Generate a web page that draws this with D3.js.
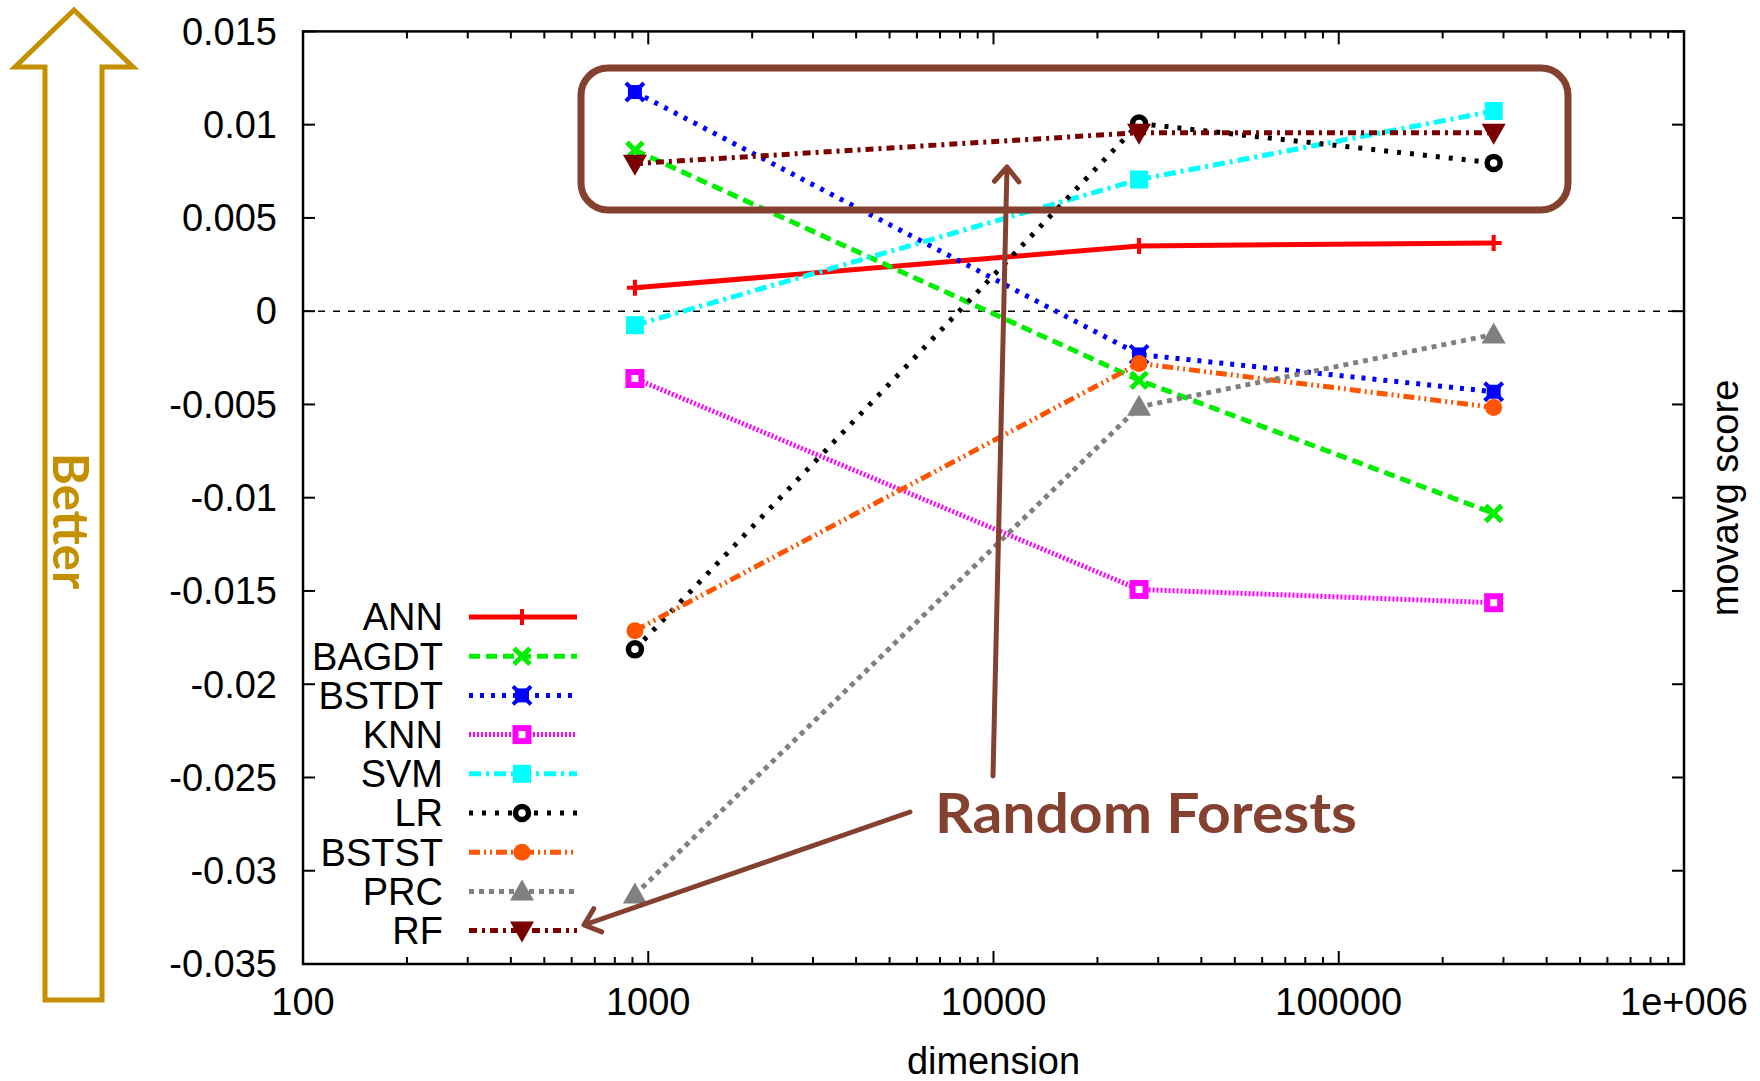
<!DOCTYPE html>
<html>
<head>
<meta charset="utf-8">
<script src="https://cdn.jsdelivr.net/npm/d3@7"></script>
<style>
  body { margin: 0; background: #fff; }
  text { font-family: "Liberation Sans", Arial, sans-serif; }
</style>
</head>
<body>
<svg id="chart" width="1760" height="1081"></svg>
<script>
// data
var dims = [915, 26400, 281000];
var seriesNames = ["ANN", "BAGDT", "BSTDT", "KNN", "SVM", "LR", "BSTST", "PRC", "RF"];
var ann   = [0.00125, 0.0035, 0.00366];
var bagdt = [0.00863, -0.0037, -0.01084];
var bstdt = [0.01175, -0.00232, -0.00432];
var knn   = [-0.00361, -0.01492, -0.01563];
var svm   = [-0.00075, 0.00706, 0.01073];
var lr    = [-0.01813, 0.01006, 0.00795];
var bstst = [-0.01713, -0.0028, -0.00516];
var prc   = [-0.03128, -0.00513, -0.00125];
var rf    = [0.00791, 0.00957, 0.00957];
var xTicks = [100, 1000, 10000, 100000, 1000000];
var xTickLabels = ["100", "1000", "10000", "100000", "1e+006"];
var yTicks = [0.015, 0.01, 0.005, 0, -0.005, -0.01, -0.015, -0.02, -0.025, -0.03, -0.035];

var values = [ann, bagdt, bstdt, knn, svm, lr, bstst, prc, rf];

//styles for each series
var styles = [
  {color: "#ff0000", dash: null,            marker: "plus"},
  {color: "#00ee00", dash: "11,6",          marker: "cross"},
  {color: "#0000ff", dash: "4,7",           marker: "star"},
  {color: "#ff00ff", dash: "2,2",           marker: "osquare"},
  {color: "#00ffff", dash: "12,5,3,5",      marker: "square"},
  {color: "#000000", dash: "4,9",           marker: "ocircle"},
  {color: "#ff5500", dash: "11,4,2,4,2,4",  marker: "circle"},
  {color: "#808080", dash: "5,5",           marker: "triangle"},
  {color: "#7a0000", dash: "8,5,3,5",       marker: "dtriangle"}
];

var svg = d3.select("#chart");
var pL = 303, pR = 1684, pT = 31.4, pB = 964;
var fs = "38px";

var x = d3.scaleLog().domain([100, 1e6]).range([pL, pR]);
var y = d3.scaleLinear().domain([-0.035, 0.015]).range([pB, pT]);

svg.append("rect").attr("width", 1760).attr("height", 1081).attr("fill", "#fff");

//zero line
svg.append("line")
  .attr("x1", pL).attr("x2", pR)
  .attr("y1", y(0)).attr("y2", y(0))
  .attr("stroke", "#000").attr("stroke-width", 1.5)
  .attr("stroke-dasharray", "7,8");

//ticks
var ticksG = svg.append("g").attr("stroke", "#000").attr("stroke-width", 2);
var minor = [];
for (var d = 100; d < 1e6; d *= 10)
  for (var k = 2; k <= 9; k++) minor.push(d * k);
xTicks.forEach(function(t) {
  ticksG.append("line").attr("x1", x(t)).attr("x2", x(t)).attr("y1", pB).attr("y2", pB - 13);
  ticksG.append("line").attr("x1", x(t)).attr("x2", x(t)).attr("y1", pT).attr("y2", pT + 13);
});
minor.forEach(function(t) {
  ticksG.append("line").attr("x1", x(t)).attr("x2", x(t)).attr("y1", pB).attr("y2", pB - 7);
  ticksG.append("line").attr("x1", x(t)).attr("x2", x(t)).attr("y1", pT).attr("y2", pT + 7);
});
yTicks.forEach(function(t) {
  ticksG.append("line").attr("x1", pL).attr("x2", pL + 12).attr("y1", y(t)).attr("y2", y(t));
  ticksG.append("line").attr("x1", pR).attr("x2", pR - 12).attr("y1", y(t)).attr("y2", y(t));
});

//tick labels
svg.append("g").selectAll("text").data(yTicks).enter().append("text")
  .attr("x", pL - 26).attr("y", function(d) { return y(d); })
  .attr("dy", "0.35em").attr("text-anchor", "end")
  .style("font-size", fs)
  .text(function(d) { return d === 0 ? "0" : String(+d.toFixed(3)); });
svg.append("g").selectAll("text").data(xTicks).enter().append("text")
  .attr("x", function(d) { return x(d); }).attr("y", 1002)
  .attr("dy", "0.35em").attr("text-anchor", "middle")
  .style("font-size", fs)
  .text(function(d, i) { return xTickLabels[i]; });

svg.append("text").attr("x", (pL + pR) / 2).attr("y", 1061).attr("dy", "0.35em")
  .attr("text-anchor", "middle").style("font-size", fs).text("dimension");
svg.append("text").attr("transform", "translate(1738,498) rotate(-90)")
  .attr("text-anchor", "middle").style("font-size", fs).text("movavg score");

//border
svg.append("rect").attr("x", pL).attr("y", pT)
  .attr("width", pR - pL).attr("height", pB - pT)
  .attr("fill", "none").attr("stroke", "#000").attr("stroke-width", 2.5);

function drawMarker(g, type, color, cx, cy) {
  var m = g.append("g").attr("transform", "translate(" + cx + "," + cy + ")");
  if (type === "plus") {
    m.append("path").attr("d", "M-8,0H8M0,-8V8").attr("stroke", color).attr("stroke-width", 4);
  } else if (type === "cross") {
    m.append("path").attr("d", "M-8,-8L8,8M-8,8L8,-8").attr("stroke", color).attr("stroke-width", 5);
  } else if (type === "star") {
    m.append("rect").attr("x", -7).attr("y", -7).attr("width", 14).attr("height", 14).attr("fill", color);
    m.append("path").attr("d", "M-9,-9L9,9M-9,9L9,-9").attr("stroke", color).attr("stroke-width", 4);
  } else if (type === "osquare") {
    m.append("rect").attr("x", -6.5).attr("y", -6.5).attr("width", 13).attr("height", 13)
      .attr("fill", "#fff").attr("stroke", color).attr("stroke-width", 6);
  } else if (type === "square") {
    m.append("rect").attr("x", -9).attr("y", -9).attr("width", 18).attr("height", 18).attr("fill", color);
  } else if (type === "ocircle") {
    m.append("circle").attr("r", 6.5).attr("fill", "#fff").attr("stroke", color).attr("stroke-width", 5.5);
  } else if (type === "circle") {
    m.append("circle").attr("r", 8.5).attr("fill", color);
  } else if (type === "triangle") {
    m.append("path").attr("d", "M0,-12L12,9H-12Z").attr("fill", color);
  } else if (type === "dtriangle") {
    m.append("path").attr("d", "M0,12L12,-9H-12Z").attr("fill", color);
  }
}

//series
var line = d3.line()
  .x(function(d, i) { return x(dims[i]); })
  .y(function(d) { return y(d); });

var plotG = svg.append("g");
values.forEach(function(vals, si) {
  var st = styles[si];
  plotG.append("path").datum(vals)
    .attr("d", line)
    .attr("fill", "none")
    .attr("stroke", st.color)
    .attr("stroke-width", 5)
    .attr("stroke-dasharray", st.dash);
  vals.forEach(function(v, i) {
    drawMarker(plotG, st.marker, st.color, x(dims[i]), y(v));
  });
});

//legend
var legG = svg.append("g");
seriesNames.forEach(function(name, i) {
  var ly = 617 + i * 39.2;
  var st = styles[i];
  legG.append("text").attr("x", 443).attr("y", ly).attr("dy", "0.35em")
    .attr("text-anchor", "end").style("font-size", fs).text(name);
  legG.append("line").attr("x1", 469).attr("x2", 577).attr("y1", ly).attr("y2", ly)
    .attr("stroke", st.color).attr("stroke-width", 5)
    .attr("stroke-dasharray", st.dash);
  drawMarker(legG, st.marker, st.color, 522, ly);
});

//annotations
var brown = "#85412f";
var gold = "#c49000";
var ann2 = svg.append("g");
ann2.append("rect").attr("x", 581).attr("y", 68).attr("width", 987).attr("height", 142)
  .attr("rx", 27).attr("fill", "none").attr("stroke", brown).attr("stroke-width", 7);

function arrow(x1, y1, x2, y2) {
  var a = Math.atan2(y2 - y1, x2 - x1), L = 19, s = 0.7;
  var p1 = [x2 - L * Math.cos(a - s), y2 - L * Math.sin(a - s)];
  var p2 = [x2 - L * Math.cos(a + s), y2 - L * Math.sin(a + s)];
  ann2.append("path")
    .attr("d", "M" + x1 + "," + y1 + "L" + x2 + "," + y2 + "M" + p1 + "L" + x2 + "," + y2 + "L" + p2)
    .attr("fill", "none").attr("stroke", brown).attr("stroke-width", 5)
    .attr("stroke-linecap", "round").attr("stroke-linejoin", "round");
}
arrow(993, 776, 1007, 167);
arrow(910, 812, 584, 925);

ann2.append("text").attr("x", 935).attr("y", 833)
  .attr("textLength", 422).attr("lengthAdjust", "spacingAndGlyphs")
  .style("font-family", "Lato, 'Open Sans', sans-serif").style("font-weight", "bold")
  .style("font-size", "56px").attr("fill", brown).text("Random Forests");

//better arrow
ann2.append("path")
  .attr("d", "M74,10L133,67H102V1000H45V67H15Z")
  .attr("fill", "none").attr("stroke", gold).attr("stroke-width", 5);
ann2.append("text").attr("transform", "translate(53,521) rotate(90)")
  .attr("text-anchor", "middle")
  .style("font-family", "Lato, 'Open Sans', sans-serif").style("font-weight", "bold")
  .style("font-size", "49px").attr("fill", gold).text("Better");
</script>
</body>
</html>
